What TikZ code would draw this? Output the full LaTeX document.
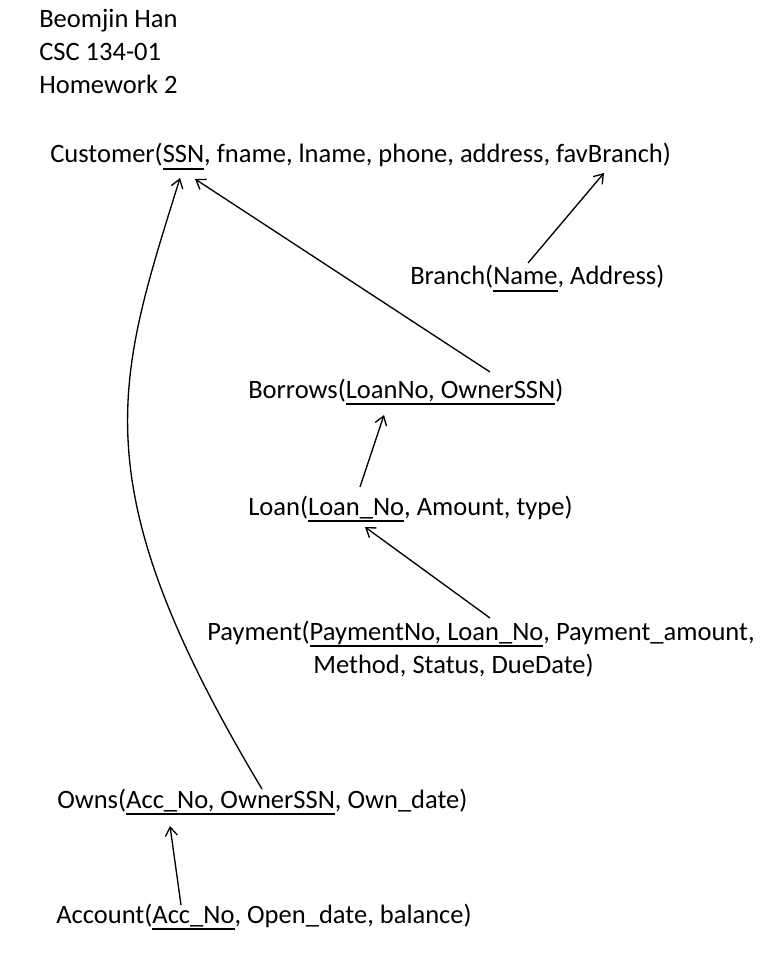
\documentclass[tikz,border=0pt]{standalone}
\usepackage{fontspec}
\setmainfont{Carlito}
\usetikzlibrary{arrows.meta,calc}

% chave primaria sublinhada
\newcommand{\pk}[1]{\setbox0\hbox{#1}\rlap{\rule[-5pt]{\wd0}{0.9pt}}\box0}

\begin{document}
\begin{tikzpicture}[x=0.75pt,y=-0.75pt,>={Straight Barb[length=6.5pt,width=9pt]},
  rel/.style={anchor=base west,inner sep=0pt,font=\fontsize{19.9}{24.75}\selectfont}]
	\useasboundingbox (0,0) rectangle (772,980);
	% cabecalho
	\node[rel,align=left] (head) at (39,94) {Beomjin Han\\CSC 134-01\\Homework 2};
	% relacoes
	\node[rel] (cust) at (50,163) {Customer(\pk{SSN}, fname, lname, phone, address, favBranch)};
	\node[rel] (branch) at (410,285) {Branch(\pk{Name}, Address)};
	\node[rel] (borrows) at (248,398) {Borrows(\pk{LoanNo, OwnerSSN})};
	\node[rel] (loan) at (248,515) {Loan(\pk{Loan\_No}, Amount, type)};
	\node[rel,align=left] (payment) at (207,673) {Payment(\pk{PaymentNo, Loan\_No}, Payment\_amount,\\\hspace*{4em}Method, Status, DueDate)};
	\node[rel] (owns) at (57,808) {Owns(\pk{Acc\_No, OwnerSSN}, Own\_date)};
	\node[rel] (account) at (56,923) {Account(\pk{Acc\_No}, Open\_date, balance)};
	% chaves estrangeiras
	\draw[->,line width=1pt] ($(branch.base west)+(118,-22)$) -- ($(cust.base west)+(554,10)$);
	\draw[->,line width=1pt] ($(borrows.base west)+(242,-26)$) -- ($(cust.base west)+(145,16)$);
	\draw[->,line width=1pt] ($(owns.base west)+(205,-19)$)
	  .. controls +(-184,-307) and +(-63,203) .. ($(cust.base west)+(130,15)$);
	\draw[->,line width=1pt] ($(loan.base west)+(112,-28)$) -- ($(borrows.base west)+(136,17)$);
	\draw[->,line width=1pt] ($(payment.base west)+(283,-55)$) -- ($(loan.base west)+(117,12)$);
	\draw[->,line width=1pt] ($(account.base west)+(125,-18)$) -- ($(owns.base west)+(113,18)$);
\end{tikzpicture}
\end{document}
